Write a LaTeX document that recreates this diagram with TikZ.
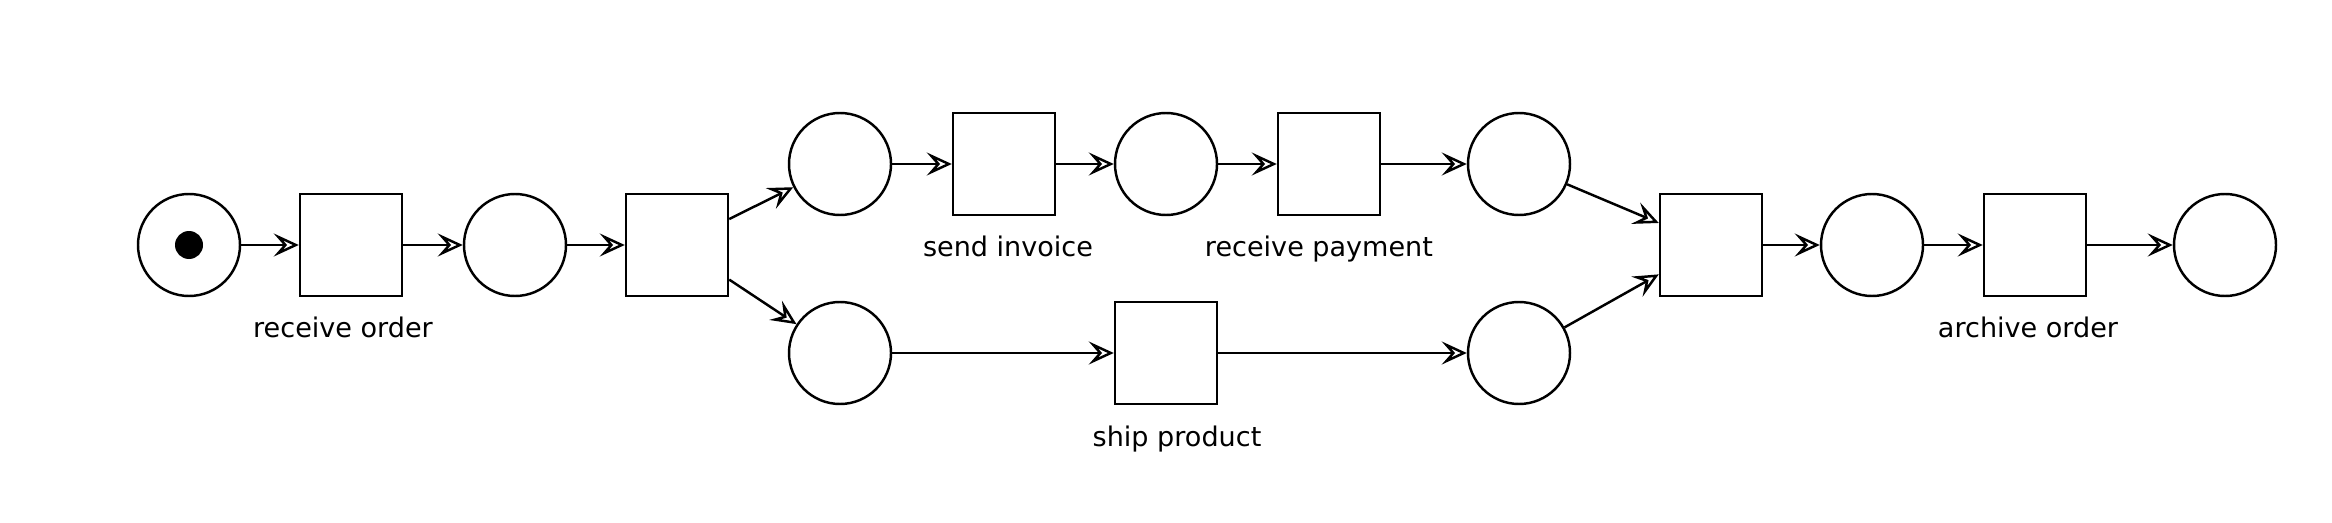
\documentclass[tikz,border=0pt]{standalone}
\usepackage{fontspec}
\setmainfont{DejaVu Sans}
\usetikzlibrary{arrows.meta}

\begin{document}
\begin{tikzpicture}[line width=0.7pt,
  place/.style={draw,circle,minimum size=1.02cm,inner sep=0pt},
  trans/.style={draw,rectangle,minimum size=1.02cm,inner sep=0pt},
  token/.style={circle,fill,minimum size=0.28cm,inner sep=0pt},
  lbl/.style={anchor=base,inner sep=0pt,font=\fontsize{7.7}{9}\selectfont},
  arc/.style={-{Stealth[open,length=2.5mm,width=2.3mm,inset=1mm]}}]
\useasboundingbox (0,0) rectangle (23.32,5.22);
\def\ym{2.77}
\def\yt{3.58}
\def\yb{1.69}

% main line
\node[place] (start) at (1.89,\ym) {};
\node[token] (tok) at (start) {};
\node[trans] (recv) at (3.51,\ym) {};
\node[place] (p1) at (5.15,\ym) {};
\node[trans] (split) at (6.77,\ym) {};

% upper branch
\node[place] (p2) at (8.40,\yt) {};
\node[trans] (inv) at (10.04,\yt) {};
\node[place] (p3) at (11.66,\yt) {};
\node[trans] (pay) at (13.29,\yt) {};
\node[place] (p4) at (15.19,\yt) {};

% lower branch
\node[place] (p5) at (8.40,\yb) {};
\node[trans] (ship) at (11.66,\yb) {};
\node[place] (p6) at (15.19,\yb) {};

\node[trans] (join) at (17.11,\ym) {};
\node[place] (p7) at (18.72,\ym) {};
\node[trans] (arch) at (20.35,\ym) {};
\node[place] (end) at (22.25,\ym) {};

\node[lbl] (lrecv) at (3.43,1.85) {receive order};
\node[lbl] (linv) at (10.08,2.66) {send invoice};
\node[lbl] (lpay) at (13.19,2.655) {receive payment};
\node[lbl] (lship) at (11.77,0.753) {ship product};
\node[lbl] (larch) at (20.28,1.85) {archive order};

\draw[arc] (start) -- (recv);
\draw[arc] (recv) -- (p1);
\draw[arc] (p1) -- (split);
\draw[arc] (split) -- (p2);
\draw[arc] (split) -- (p5);
\draw[arc] (p2) -- (inv);
\draw[arc] (inv) -- (p3);
\draw[arc] (p3) -- (pay);
\draw[arc] (pay) -- (p4);
\draw[arc] (p5) -- (ship);
\draw[arc] (ship) -- (p6);
\draw[arc] (p4) -- (join);
\draw[arc] (p6) -- (join);
\draw[arc] (join) -- (p7);
\draw[arc] (p7) -- (arch);
\draw[arc] (arch) -- (end);
\end{tikzpicture}
\end{document}
